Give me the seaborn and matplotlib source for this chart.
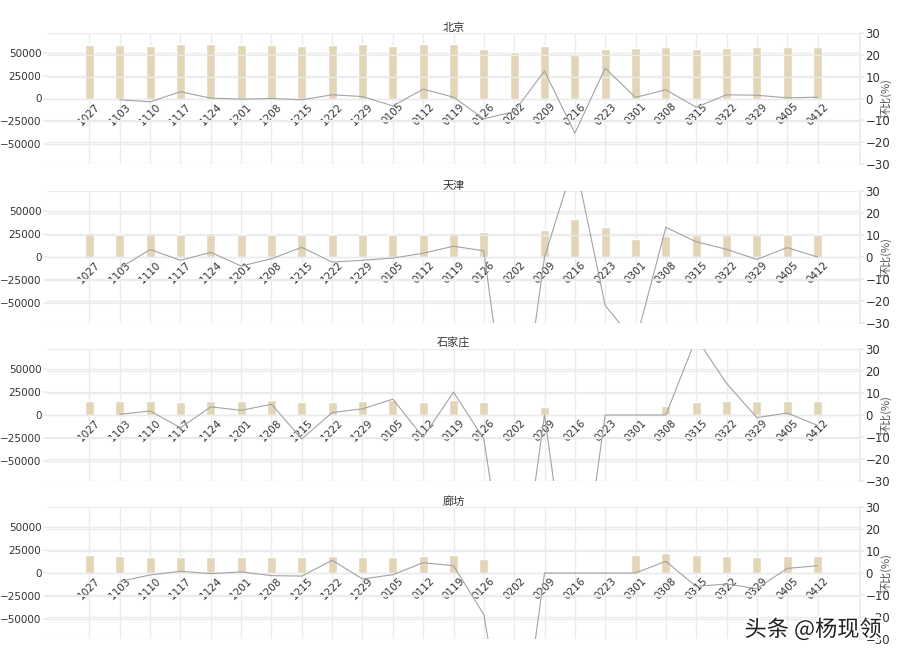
import numpy as np
import pandas as pd
import seaborn as sns
import matplotlib.pyplot as plt
import matplotlib.patheffects as pe

sns.set_theme(style="whitegrid")
plt.rcParams['font.family'] = ['DejaVu Sans', 'Noto Sans CJK SC']

dates = ["1027", "1103", "1110", "1117", "1124", "1201", "1208", "1215", "1222",
         "1229", "0105", "0112", "0119", "0126", "0202", "0209", "0216", "0223",
         "0301", "0308", "0315", "0322", "0329", "0405", "0412"]

cities = ["北京", "天津", "石家庄", "廊坊"]

# 成交量 (bar)
bj_vol = [59200, 58400, 57700, 59500, 59500, 58800, 58800, 58100, 59200, 59500, 57700, 60300,
          60300, 54400, 51100, 57700, 48200, 54800, 55100, 57000, 54800, 55500, 56200, 56600, 56600]
tj_vol = [26500, 24600, 25700, 25000, 25700, 24600, 24600, 25400, 24600, 24600, 24600, 24600,
          26500, 26900, np.nan, 29100, 41800, 32500, 19800, 22800, 24200, 24200, 24200, 25400, 25400]
sjz_vol = [15300, 15300, 15700, 14500, 15300, 15700, 16400, 14500, 14500, 15300, 16400, 14500,
           16000, 14200, np.nan, 8600, np.nan, np.nan, np.nan, 9700, 13800, 15700, 15700, 15700, 14900]
lf_vol = [19400, 18300, 17900, 17900, 17900, 17900, 17500, 17200, 18700, 17500, 17500, 18700,
          19400, 15700, np.nan, np.nan, np.nan, np.nan, 20100, 21600, 20100, 19000, 17500, 18300, 18300]

# 环比 (%) (line)
bj_pct = [np.nan, -0.6, -1.5, 3.1, 0.15, -0.3, 0.0, -0.6, 1.7, 0.9, -3.4, 4.3,
          0.6, -9.3, -6.0, 12.6, -15.9, 13.9, 0.5, 4.0, -4.0, 1.7, 1.5, 0.3, 0.6]
tj_pct = [np.nan, -5.0, 3.4, -1.5, 2.1, -4.1, -0.8, 4.4, -2.3, -1.5, -0.5, 1.7,
          4.9, 2.8, -100, 0.0, 44, -22, -39, 13.5, 6.9, 3.5, -1.1, 4.3, 0.0]
sjz_pct = [np.nan, 0.3, 1.8, -5.8, 3.7, 2.1, 4.9, -10.9, 1.1, 2.8, 7.2, -10.1,
           10.4, -10.9, -100, 0.0, -100, 0.0, 0.0, 0.0, 35, 14.4, -1.2, 0.9, -4.7]
lf_pct = [np.nan, -3.8, -0.9, 0.8, -0.3, 0.5, -1.2, -1.4, 5.8, -2.7, -0.8, 4.7,
          3.3, -18.9, -100, 0.0, 0.0, 0.0, 0.0, 5.3, -6.1, -5.0, -7.1, 2.1, 3.3]

vols = [bj_vol, tj_vol, sjz_vol, lf_vol]
pcts = [bj_pct, tj_pct, sjz_pct, lf_pct]

bar_color = "#e2d5b8"
line_color = "#a3a3a3"
grid_color = "#ebebeb"

W, H = 898, 657
fig = plt.figure(figsize=(W / 100, H / 100), dpi=100)

# (top, bottom) px of each panel
panels = [(33, 164), (191, 323), (349, 481), (507, 639)]
left_px, right_px = 47, 860

for i, city in enumerate(cities):
    top, bot = panels[i]
    ax = fig.add_axes([left_px / W, 1 - bot / H, (right_px - left_px) / W, (bot - top) / H])

    df = pd.DataFrame({"date": dates, "vol": vols[i], "pct": pcts[i]})
    df["idx"] = np.arange(len(dates))

    sns.barplot(data=df, x="date", y="vol", order=dates, color=bar_color,
                width=0.3, saturation=1, ax=ax, zorder=2)
    ax.set_ylim(-72000, 72000)
    ax.set_xlim(-1.4, 25.4)
    ax.set_yticks([-50000, -25000, 0, 25000, 50000])
    ax.set_xlabel("")
    ax.set_ylabel("")
    ax.grid(True, color=grid_color, linewidth=1)
    ax.set_axisbelow(True)
    for s in ax.spines.values():
        s.set_visible(False)
    ax.spines["bottom"].set_position(("data", 0))
    ax.tick_params(axis="x", length=0, pad=2, labelsize=7.5, labelcolor="#333333",
                   labelrotation=45)
    for lab in ax.get_xticklabels():
        lab.set_ha("center")
        lab.set_va("top")
    ax.tick_params(axis="y", length=3, color=grid_color, pad=1, labelsize=7.5,
                   labelcolor="#333333", left=True)
    ax.set_title(city, fontsize=8, color="#333333", pad=1.5)

    ax2 = ax.twinx()
    sns.lineplot(data=df, x="idx", y="pct", color=line_color, linewidth=0.8, ax=ax2)
    ax2.set_ylim(-30, 30)
    ax2.set_yticks([-30, -20, -10, 0, 10, 20, 30])
    ax2.set_xlim(-1.4, 25.4)
    ax2.set_xlabel("")
    ax2.set_ylabel("环比(%)", fontsize=8, color="#555555",
                   family=['Noto Sans CJK SC', 'DejaVu Sans'])
    ax2.yaxis.set_label_coords(1 + (880 - right_px) / (right_px - left_px), 0.5)
    ax2.grid(True, axis="y", color=grid_color, linewidth=1)
    ax2.grid(False, axis="x")
    for s in ax2.spines.values():
        s.set_visible(False)
    ax2.spines["right"].set_visible(True)
    ax2.spines["right"].set_color(grid_color)
    ax2.tick_params(axis="y", length=3, color=grid_color, pad=1, labelsize=8.5,
                    labelcolor="#333333", right=True)

fig.text(0.982, 0.024, "头条 @杨现领", ha="right", va="bottom", fontsize=16, color="#222222",
         family=['Noto Sans CJK SC', 'DejaVu Sans'],
         path_effects=[pe.withStroke(linewidth=2.5, foreground="white")])

fig.savefig("out.png", dpi=100)
